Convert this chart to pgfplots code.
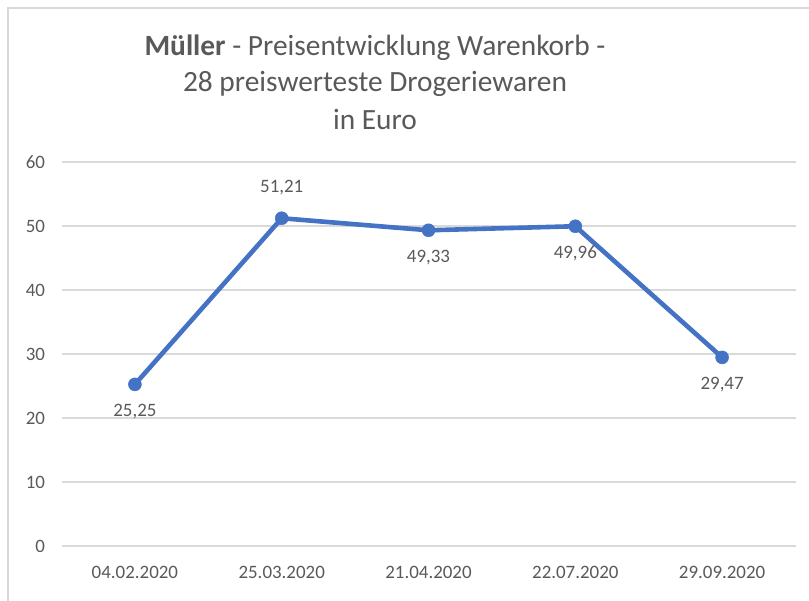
\documentclass[border=0pt]{standalone}
\usepackage{pgfplots}
\pgfplotsset{compat=1.18}
\usepackage{fontspec}
\setmainfont{Carlito}
\definecolor{lineblue}{HTML}{4472C4}
\definecolor{txtgray}{HTML}{595959}
\definecolor{gridgray}{HTML}{D9D9D9}
\begin{document}
\begin{tikzpicture}[x=1bp,y=1bp]
\draw[gridgray, line width=1.5bp] (8,0) -- (8,593) -- (809,593);
\node[txtgray, font=\fontsize{29.5}{34}\selectfont] at (375,553) {\textbf{Müller} - Preisentwicklung Warenkorb -};
\node[txtgray, font=\fontsize{29.5}{34}\selectfont] at (375,517) {28 preiswerteste Drogeriewaren};
\node[txtgray, font=\fontsize{29.5}{34}\selectfont] at (375,481) {in Euro};
\begin{axis}[
  at={(61.5bp,55bp)}, anchor=south west,
  scale only axis, width=734bp, height=384bp,
  xmin=-0.5, xmax=4.5, ymin=0, ymax=60,
  xtick={0,1,2,3,4},
  xticklabels={04.02.2020,25.03.2020,21.04.2020,22.07.2020,29.09.2020},
  ytick={0,10,20,30,40,50,60},
  ymajorgrids, grid style={gridgray, line width=1.2bp},
  axis line style={draw=none},
  major tick length=0pt,
  tick label style={txtgray, font=\fontsize{19}{22}\selectfont},
  /pgf/number format/assume math mode=true,
  yticklabel style={xshift=-13bp},
  xticklabel style={yshift=-17bp},
  clip=false,
  nodes near coords style={txtgray, font=\fontsize{19}{22}\selectfont,
    /pgf/number format/fixed, /pgf/number format/fixed zerofill,
    /pgf/number format/precision=2, /pgf/number format/use comma,
    /pgf/number format/assume math mode=true},
]
\addplot[lineblue, line width=4.6bp, mark=*, mark size=6.5bp, mark options={fill=lineblue, draw=lineblue, line width=0.5bp}]
  coordinates {(0,25.25) (1,51.21) (2,49.33) (3,49.96) (4,29.47)};
\addplot[draw=none, mark=none, nodes near coords, nodes near coords align={below}, every node near coord/.append style={yshift=-16bp}]
  coordinates {(0,25.25) (2,49.33) (3,49.96) (4,29.47)};
\addplot[draw=none, mark=none, nodes near coords, nodes near coords align={above}, every node near coord/.append style={yshift=20bp}]
  coordinates {(1,51.21)};
\end{axis}
\pgfresetboundingbox
\useasboundingbox (0,0) rectangle (809,601);
\end{tikzpicture}
\end{document}
